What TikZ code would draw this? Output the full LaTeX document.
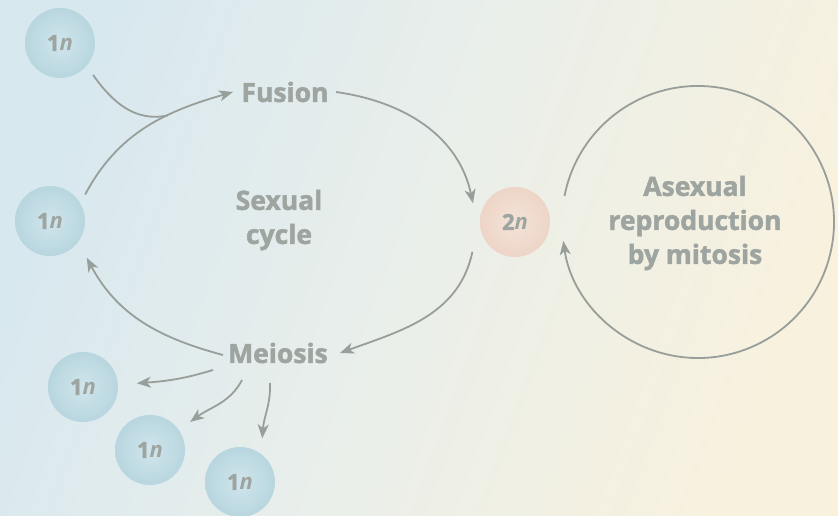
\documentclass[tikz,border=0pt]{standalone}
\usepackage{fontspec}
\setmainfont{Open Sans}[BoldFeatures={FakeBold=1.8}]
\usetikzlibrary{calc,arrows.meta}
\definecolor{bgleft}{HTML}{D8E8EF}
\definecolor{bgmid}{HTML}{EAEFEA}
\definecolor{bgright}{HTML}{F8F1DE}
\definecolor{labelgray}{HTML}{9EA5A1}
\definecolor{linegray}{HTML}{989E9A}
\definecolor{hapin}{HTML}{D0E5EC}
\definecolor{hapout}{HTML}{B8D6DF}
\definecolor{dipin}{HTML}{F4E3D8}
\definecolor{dipout}{HTML}{EDD5C7}
\tikzset{
  x=1pt, y=1pt,
  label text/.style={text=labelgray, font=\fontsize{26.5}{34}\selectfont\bfseries, align=center, inner sep=2pt},
  haploid/.style={circle, minimum size=70pt, inner sep=0pt, shade, inner color=hapin, outer color=hapout,
    text=labelgray, font=\fontsize{22}{24}\selectfont\bfseries},
  diploid/.style={haploid, inner color=dipin, outer color=dipout},
  flow/.style={draw=linegray, line width=1.8pt, -{Stealth[length=14pt, width=11pt, inset=4pt]}},
  plain/.style={draw=linegray, line width=1.8pt},
}
\newcommand{\ploidy}[1]{#1\textit{n}}
\begin{document}
\begin{tikzpicture}
  % backdrop
  \useasboundingbox (0,0) rectangle (838,515);
  \shade[left color=bgleft, right color=bgright, middle color=bgmid, shading angle=70] (0,0) rectangle (838,515);

  % cells
  \node[haploid] (n1) at (60,472) {\ploidy{1}};
  \node[haploid] (n2) at (50,294) {\ploidy{1}};
  \node[diploid] (d)  at (515,293) {\ploidy{2}};
  \node[haploid] (m1) at (83,128) {\ploidy{1}};
  \node[haploid] (m2) at (150,65) {\ploidy{1}};
  \node[haploid] (m3) at (240,33) {\ploidy{1}};

  % stage labels
  \node[label text] (fus) at (285,423) {Fusion};
  \node[label text] (mei) at (278,162) {Meiosis};
  \node[label text] (sex) at (279,295) {Sexual\\cycle};
  \node[label text] (asex) at (695,292) {Asexual\\reproduction\\by mitosis};

  % sexual cycle
  \draw[flow] ($(n2)+(37:44)$) to[out=62, in=196] coordinate[pos=0.64] (merge) ($(fus)+(-52,0)$);
  \draw[plain] ($(n1)+(-44:46)$) to[out=-55, in=192] (merge);
  \draw[flow] ($(fus)+(51,0)$) to[out=-8, in=102] ($(d)+(156:46)$);
  \draw[flow] ($(d)+(215:52)$) to[out=-102, in=20] ($(mei)+(62,0)$);
  \draw[flow] ($(mei)+(-55,-2)$) to[out=165, in=-62] ($(n2)+(-45:52)$);

  % meiotic products
  \draw[flow] ($(mei)+(-65,-17)$) to[out=197, in=4] ($(m1)+(4:54)$);
  \draw[flow] ($(mei)+(-36,-27)$) to[out=-118, in=36] ($(m2)+(35:49)$);
  \draw[flow] ($(mei)+(-8,-30)$) to[out=-88, in=86] ($(m3)+(63:49)$);

  % asexual loop
  \coordinate (loopstart) at ($(asex)+(3,1)+(169:136)$);
  \draw[flow] (loopstart) arc[start angle=169, end angle=-172, radius=136];
\end{tikzpicture}
\end{document}
